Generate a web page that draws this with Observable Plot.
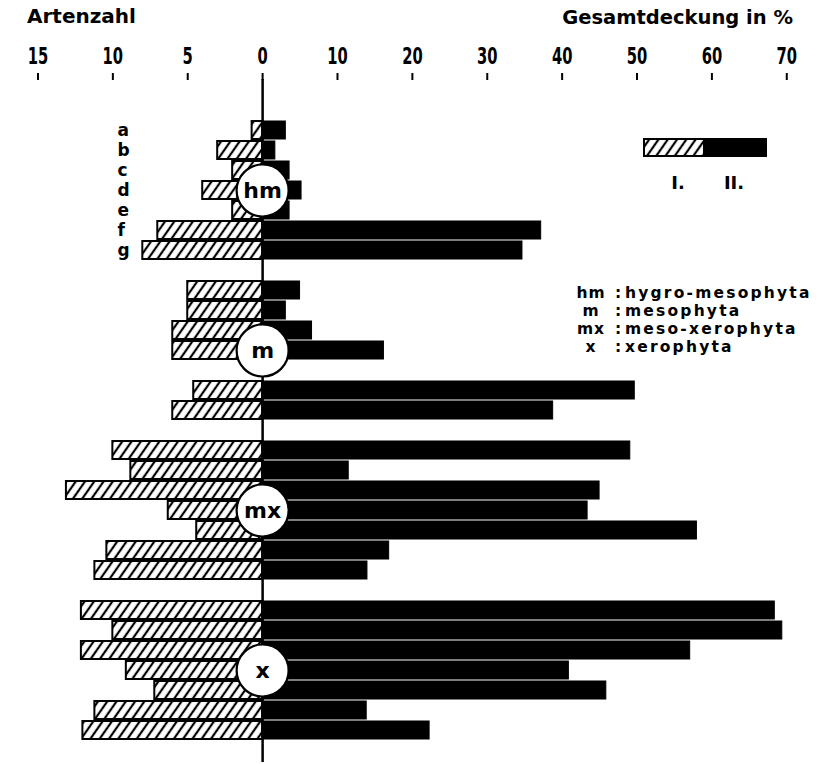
<!DOCTYPE html>
<html><head><meta charset="utf-8">
<script src="https://cdn.jsdelivr.net/npm/d3@7"></script>
<script src="https://cdn.jsdelivr.net/npm/@observablehq/plot@0.6"></script>
<style>
body{margin:0;background:#fff;}
svg{display:block;}
</style></head><body><div id="chart"></div>
<script>
// ---- data ----
const groups = ["hm", "m", "mx", "x"];
const sites = ["a", "b", "c", "d", "e", "f", "g"];
// I. Artenzahl (species count), II. Gesamtdeckung in % (total cover)
const artenHm   = [0.7, 3, 2, 4, 2, 7, 8];
const deckungHm = [3.1, 1.7, 3.6, 5.2, 3.6, 37.2, 34.7];
const artenM    = [5, 5, 6, 6, null, 4.6, 6];
const deckungM  = [5.0, 3.1, 6.6, 16.2, null, 49.7, 38.8];
const artenMx   = [10, 8.8, 13.1, 6.3, 4.4, 10.4, 11.2];
const deckungMx = [49.1, 11.5, 45.0, 43.4, 58.0, 16.9, 14.0];
const artenX    = [12.1, 10, 12.1, 9.1, 7.2, 11.2, 12.0];
const deckungX  = [68.4, 69.4, 57.1, 40.9, 45.9, 13.9, 22.3];
const artenTicks = [15, 10, 5, 0];
const deckungTicks = [10, 20, 30, 40, 50, 60, 70];
const legendAbbr = ["hm", "m", "mx", "x"];
const legendNames = ["hygro-mesophyta", "mesophyta", "meso-xerophyta", "xerophyta"];
const legendBarLabels = ["I.", "II."];
const titleLeft = "Artenzahl";
const titleRight = "Gesamtdeckung in %";

// ---- build table ----
const arten = [artenHm, artenM, artenMx, artenX];
const deckung = [deckungHm, deckungM, deckungMx, deckungX];
const slotsPerGroup = sites.length + 1;
const rows = [];
groups.forEach((g, gi) => sites.forEach((s, si) => {
  if (arten[gi][si] != null) rows.push({group: g, site: s, slot: gi * slotsPerGroup + si, arten: arten[gi][si], deckung: deckung[gi][si]});
}));
const circles = groups.map((g, gi) => ({group: g, slot: gi * slotsPerGroup + 3}));
const siteLabels = sites.map((s, si) => ({site: s, slot: si}));
const nSlots = groups.length * slotsPerGroup - 1;
// one species is drawn as long as 2 % of cover
const SPECIES_UNIT = 2;
const xTicks = artenTicks.map(a => -SPECIES_UNIT * a).concat(deckungTicks);

const FONT = "DejaVu Sans, sans-serif";
const CFONT = "'DejaVu Sans Condensed', 'DejaVu Sans', sans-serif";

const chart = Plot.plot({
  width: 823,
  height: 764,
  marginTop: 79,
  marginBottom: 2,
  marginLeft: 21,
  marginRight: 18,
  style: {fontFamily: FONT, fontWeight: "bold", color: "black", background: "white"},
  x: {domain: [-32.2, 72.5], axis: null, label: null},
  y: {type: "band", domain: d3.range(nSlots), range: [114, 745], paddingInner: 0.1, paddingOuter: 0, axis: null, label: null},
  marks: [
    Plot.axisX({anchor: "top", label: null, ticks: xTicks, tickFormat: d => String(d < 0 ? -d / SPECIES_UNIT : Math.abs(d)),
      tickSize: 7, tickPadding: 9, fontSize: 23, strokeWidth: 2, line: true, fontFamily: FONT}),
    Plot.barX(rows, {x1: 0, x2: d => -SPECIES_UNIT * d.arten, y: "slot", fill: "url(#hatch)", stroke: "black", strokeWidth: 2}),
    Plot.barX(rows, {x1: 0, x2: "deckung", y: "slot", fill: "black", stroke: "black", strokeWidth: 1}),
    Plot.ruleX([0], {strokeWidth: 2.5}),
    Plot.dot(circles, {x: 0, y: "slot", r: 26, fill: "white", stroke: "black", strokeWidth: 2.2}),
    Plot.text(circles, {x: 0, y: "slot", text: "group", fontSize: 22, fontFamily: FONT, fontWeight: "bold"}),
    Plot.text(siteLabels, {y: "slot", text: "site", frameAnchor: "left", dx: 96, fontSize: 17, fontFamily: FONT, fontWeight: "bold"})
  ]
});

const svg = d3.select(chart);
// narrow, tall digits like the original lettering
svg.selectAll("g[aria-label='x-axis tick label'] text").each(function() {
  const t = d3.select(this).attr("transform") || "";
  d3.select(this).attr("transform", t + " scale(0.64,1)");
});

const defs = svg.insert("defs", ":first-child");
const pat = defs.append("pattern").attr("id", "hatch").attr("patternUnits", "userSpaceOnUse")
  .attr("width", 7.6).attr("height", 7.6).attr("patternTransform", "rotate(35)");
pat.append("rect").attr("width", 7.6).attr("height", 7.6).attr("fill", "white");
pat.append("line").attr("x1", 3.8).attr("y1", 0).attr("x2", 3.8).attr("y2", 7.6).attr("stroke", "black").attr("stroke-width", 2.2);

function addText(parent, x, y, str, size, anchor, family) {
  return parent.append("text").attr("x", x).attr("y", y).attr("text-anchor", anchor)
    .attr("font-size", size).attr("font-weight", "bold").attr("font-family", family || FONT)
    .attr("fill", "black").text(str);
}

// titles
addText(svg, 27, 23, titleLeft, 20, "start");
addText(svg, 793, 24, titleRight, 19.5, "end");

// legend bar I. / II.
const lg = svg.append("g");
lg.append("rect").attr("x", 643).attr("y", 138).attr("width", 124).attr("height", 19).attr("fill", "black");
lg.append("rect").attr("x", 644).attr("y", 139).attr("width", 60).attr("height", 17).attr("fill", "url(#hatch)").attr("stroke", "black").attr("stroke-width", 2);
legendBarLabels.forEach((t, i) => addText(lg, [678, 734][i], 189, t, 18, "middle"));

// legend abbreviations
legendAbbr.forEach((a, i) => {
  const y = 298 + i * 18;
  addText(lg, 591, y, a, 15.5, "middle").attr("letter-spacing", 1);
  addText(lg, 618, y, ":", 15.5, "middle");
  addText(lg, 625, y, legendNames[i], 15.5, "start").attr("letter-spacing", 2.2);
});

document.getElementById("chart").appendChild(chart);
</script>
</body></html>
